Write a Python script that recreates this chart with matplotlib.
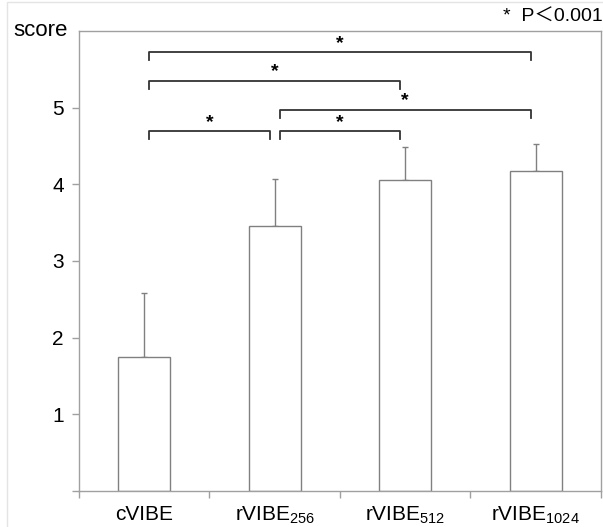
import matplotlib
matplotlib.use("Agg")
import matplotlib.pyplot as plt
from matplotlib.patches import Rectangle

plt.rcParams['font.family'] = ['Liberation Sans', 'Noto Sans CJK JP']
plt.rcParams['mathtext.fontset'] = 'custom'
plt.rcParams['mathtext.rm'] = 'Liberation Sans'
plt.rcParams['mathtext.it'] = 'Liberation Sans'

labels = ['cVIBE', r'rVIBE$_{256}$', r'rVIBE$_{512}$', r'rVIBE$_{1024}$']
means = [1.75, 3.46, 4.06, 4.17]
sd = [0.83, 0.61, 0.43, 0.35]

# pairs (from, to, level) for the significance brackets
pairs = [(0, 3, 5.72), (0, 2, 5.35), (1, 3, 4.97), (0, 1, 4.69), (1, 2, 4.69)]

fig = plt.figure(figsize=(6.03, 5.27), dpi=100)
fig.patches.append(Rectangle((7 / 603, -0.01), 1.1, 1 - 2 / 527 + 0.01, transform=fig.transFigure,
                             fill=False, edgecolor='#e4e4e4', lw=1))
ax = fig.add_axes([79 / 603, 1 - 491 / 527, (601 - 79) / 603, (491 - 31) / 527])

x = range(len(means))
ax.bar(x, means, width=0.40, color='white', edgecolor='#808080', lw=1, zorder=2)
ax.errorbar(x, means, yerr=[[0] * 4, sd], fmt='none', ecolor='#808080', elinewidth=1,
            capsize=2, capthick=1, zorder=1)

dy = 0.1
off = 0.04
for a, b, h in pairs:
    ax.plot([a + off, a + off, b - off, b - off], [h - dy, h, h, h - dy], color='#333333', lw=1.3,
            clip_on=False)
    ax.text((a + b) / 2, h + 0.01, '*', ha='center', va='bottom', fontsize=14, fontweight='bold')

ax.set_xlim(-0.5, 3.5)
ax.set_ylim(0, 6)
ax.set_yticks(range(6))
ax.set_yticklabels([''] + [str(i) for i in range(1, 6)], fontsize=15)
ax.set_xticks([-0.5, 0.5, 1.5, 2.5, 3.5])
ax.set_xticklabels([])
ax.set_xticks(list(x), minor=True)
ax.set_xticklabels(labels, minor=True, fontsize=15)
ax.tick_params(axis='x', which='minor', length=0, pad=10)
ax.tick_params(axis='both', which='major', length=5, color='#a0a0a0', width=1)
ax.tick_params(axis='y', pad=6)

for s in ax.spines.values():
    s.set_color('#a0a0a0')
    s.set_linewidth(1)

fig.text(68 / 603, 1 - 30 / 527, 'score', ha='right', va='center', fontsize=16)
fig.text(603 / 603, 1 - 17 / 527, '*  P＜0.001', ha='right', va='center', fontsize=14)

fig.savefig('out.png', dpi=100)
